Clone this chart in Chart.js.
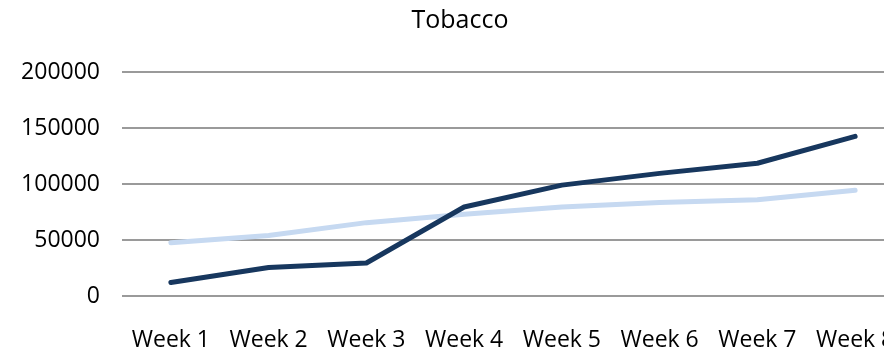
<!DOCTYPE html>
<html>
<head>
<meta charset="utf-8">
<script src="https://cdn.jsdelivr.net/npm/chart.js@4/dist/chart.umd.min.js"></script>
<style>
  html, body { margin: 0; padding: 0; background: #fff; overflow: hidden; }
  #wrap { width: 920px; height: 349px; }
</style>
</head>
<body>
<div id="wrap"><canvas id="chart" width="920" height="349"></canvas></div>
<script>
// Weekly tobacco figures, two series
const weeks = ['Week 1', 'Week 2', 'Week 3', 'Week 4', 'Week 5', 'Week 6', 'Week 7', 'Week 8'];
const seriesDark = [12000, 25500, 29500, 79500, 99000, 109500, 118500, 142500];
const seriesLight = [47500, 54000, 65500, 73000, 79500, 83500, 86000, 94500];
const yTicks = [0, 50000, 100000, 150000, 200000];

const font = { family: '"Open Sans", sans-serif', size: 23 };

new Chart(document.getElementById('chart'), {
  type: 'line',
  data: {
    labels: weeks,
    datasets: [
      {
        data: seriesDark,
        borderColor: '#17375E',
        borderWidth: 5,
        pointRadius: 0,
        tension: 0,
        borderCapStyle: 'round',
        borderJoinStyle: 'round'
      },
      {
        data: seriesLight,
        borderColor: '#C6D9F1',
        borderWidth: 5,
        pointRadius: 0,
        tension: 0,
        borderCapStyle: 'round',
        borderJoinStyle: 'round'
      }
    ]
  },
  options: {
    responsive: false,
    animation: false,
    layout: { padding: { top: 0, right: 16, bottom: 0, left: 16 } },
    plugins: {
      legend: { display: false },
      tooltip: { enabled: false },
      title: {
        display: true,
        text: 'Tobacco',
        color: '#000',
        font: { family: font.family, size: 25, weight: 'normal' },
        padding: { top: 6, bottom: 36 }
      }
    },
    scales: {
      x: {
        offset: true,
        grid: { display: false, drawTicks: false },
        border: { display: false },
        afterFit: (axis) => {
          axis.height = 53;
          axis.paddingLeft = 0;
          axis.paddingRight = 0;
        },
        ticks: {
          color: '#000',
          font: font,
          padding: 31,
          maxRotation: 0,
          autoSkip: false
        }
      },
      y: {
        min: yTicks[0],
        max: yTicks[yTicks.length - 1],
        afterBuildTicks: (axis) => { axis.ticks = yTicks.map(v => ({ value: v })); },
        afterFit: (axis) => { axis.width = 106; },
        grid: { color: '#9a9a9a', lineWidth: 2, drawTicks: false },
        border: { display: false },
        ticks: {
          color: '#000',
          font: font,
          padding: 22,
          callback: (v) => String(v)
        }
      }
    }
  }
});
</script>
</body>
</html>
